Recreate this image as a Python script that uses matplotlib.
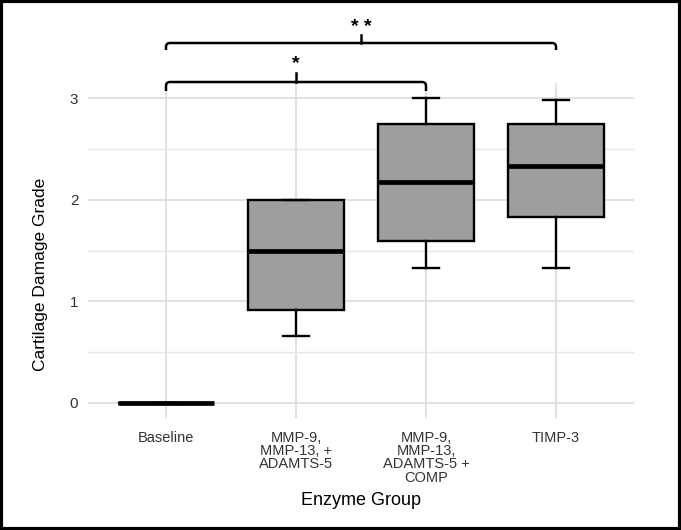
import matplotlib
matplotlib.use("Agg")
import matplotlib.pyplot as plt
from matplotlib.patches import Rectangle, PathPatch
from matplotlib.path import Path

plt.rcParams['font.family'] = ['Liberation Sans', 'DejaVu Sans']

categories = ["Baseline", "MMP-9,\nMMP-13, +\nADAMTS-5", "MMP-9,\nMMP-13,\nADAMTS-5 +\nCOMP", "TIMP-3"]
whis_low = [0.0, 0.66, 1.33, 1.33]
q1 = [0.0, 0.91, 1.59, 1.83]
median = [0.0, 1.50, 2.17, 2.33]
q3 = [0.0, 2.00, 2.75, 2.75]
whis_high = [0.0, 2.00, 3.00, 2.98]
y_ticks = [0, 1, 2, 3]
brackets = [(1, 3, "*"), (1, 4, "* *")]

fig = plt.figure(figsize=(6.81, 5.30), dpi=100)
ax = fig.add_axes([88/681, 1-418/530, (634-88)/681, (418-83)/530])

stats = []
for i, c in enumerate(categories):
    stats.append(dict(med=median[i], q1=q1[i], q3=q3[i], whislo=whis_low[i], whishi=whis_high[i], fliers=[], label=c))
pos = list(range(1, len(categories) + 1))
ax.bxp(stats, positions=pos, widths=0.74, patch_artist=True, showfliers=False,
       boxprops=dict(facecolor="#9e9e9e", edgecolor="black", linewidth=1.7),
       medianprops=dict(color="black", linewidth=3.4, solid_capstyle="butt"),
       whiskerprops=dict(color="black", linewidth=1.7),
       capprops=dict(color="black", linewidth=1.7), capwidths=0.2, zorder=3)

ax.set_xlim(0.4, 4.6)
ax.set_ylim(-0.15, 3.15)
ax.set_yticks(y_ticks)
ax.set_yticks([0.5, 1.5, 2.5], minor=True)
ax.set_xticks(pos)
ax.set_xticklabels(categories, color="#333333", fontsize=10.5, linespacing=0.95, va="top")
ax.tick_params(axis="y", labelcolor="#333333", labelsize=11, length=0, pad=7)
ax.tick_params(axis="x", length=0, pad=9)
ax.tick_params(which="minor", length=0)
ax.grid(True, which="major", color="#dcdcdc", linewidth=1.2, zorder=0)
ax.grid(True, which="minor", axis="y", color="#e6e6e6", linewidth=1.0, zorder=0)
ax.set_axisbelow(True)
for s in ax.spines.values():
    s.set_visible(False)
ax.set_xlabel("Enzyme Group", fontsize=13, labelpad=5)
ax.set_ylabel("Cartilage Damage Grade", fontsize=12.5)
ax.yaxis.set_label_coords(-0.073, 0.43)

def data_y(py):
    return 3.15 - (py - 83) / (418 - 83) * 3.3

def data_dx(px):
    return px / 130.0

def data_dy(px):
    return px * 3.3 / (418 - 83)

levels = [(82, 91, 73, 64), (43, 50, 35, 27)]
for (a, b, txt), (yl, ye, yt, ys) in zip(brackets, levels):
    y_line = data_y(yl); y_end = data_y(ye); y_tip = data_y(yt); y_star = data_y(ys)
    rx = data_dx(4); ry = data_dy(4)
    verts = [(a, y_end), (a, y_line - ry), (a, y_line), (a + rx, y_line),
             (b - rx, y_line), (b, y_line), (b, y_line - ry), (b, y_end)]
    codes = [Path.MOVETO, Path.LINETO, Path.CURVE3, Path.CURVE3,
             Path.LINETO, Path.CURVE3, Path.CURVE3, Path.LINETO]
    ax.add_patch(PathPatch(Path(verts, codes), fill=False, edgecolor="black", lw=1.8, clip_on=False))
    mid = (a + b) / 2
    ax.plot([mid, mid], [y_line, y_tip], color="black", lw=1.8, clip_on=False)
    ax.text(mid, y_star, txt, ha="center", va="center", fontsize=14, fontweight="bold", clip_on=False)

fig.add_artist(Rectangle((0.002, 0.002), 0.996, 0.996, transform=fig.transFigure, fill=False,
                         edgecolor="black", linewidth=3))

fig.savefig("out.png", dpi=100)
